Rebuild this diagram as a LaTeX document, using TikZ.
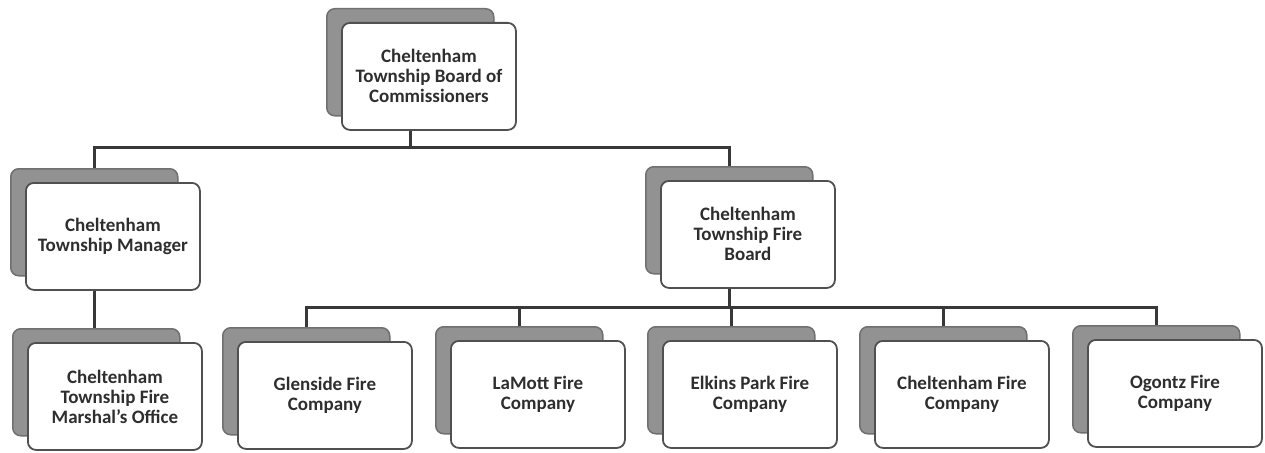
\documentclass[tikz,border=0pt]{standalone}
\usepackage{fontspec}
\setmainfont{Carlito}
\definecolor{frontc}{HTML}{505050}
\definecolor{shadc}{HTML}{707070}
\definecolor{shadf}{HTML}{929292}
\definecolor{textc}{HTML}{2E2E2E}
\definecolor{connc}{HTML}{383838}
\begin{document}
\begin{tikzpicture}[x=1pt,y=-1pt,
  frontbox/.style={draw=frontc, line width=1.8pt, fill=white, rounded corners=8pt,
    minimum width=174pt, minimum height=107pt, anchor=north west, align=center,
    font=\fontsize{19}{20}\selectfont\bfseries, text=textc, inner sep=0pt},
  shadowbox/.style={draw=shadc, line width=1.5pt, fill=shadf, rounded corners=8pt,
    minimum width=167pt, minimum height=107pt, anchor=north west, inner sep=0pt},
  conn/.style={draw=connc, line width=3pt}]
\useasboundingbox[fill=white] (0,0) rectangle (1265,452);
\newcommand\orgbox[4]{%
  \node[shadowbox] (#1s) at (#2-15,#3-14) {};
  \node[frontbox] (#1) at (#2,#3) {#4};}
\orgbox{top}{341}{22}{Cheltenham\\Township Board of\\Commissioners}
\orgbox{man}{25}{182}{Cheltenham\\Township Manager}
\orgbox{mar}{27}{342}{Cheltenham\\Township Fire\\Marshal's Office}
\orgbox{board}{660}{180}{Cheltenham\\Township Fire\\Board}
\orgbox{glen}{237}{341}{Glenside Fire\\Company}
\orgbox{lam}{450}{340}{LaMott Fire\\Company}
\orgbox{elk}{662}{340}{Elkins Park Fire\\Company}
\orgbox{chf}{874}{340}{Cheltenham Fire\\Company}
\orgbox{ogo}{1087}{339}{Ogontz Fire\\Company}
\coordinate (b1) at (0,147);
\coordinate (b2) at (0,307);
\draw[conn] (top.south -| tops.north) -- (tops.north |- b1);
\draw[conn] (mans.north) -- (mans.north |- b1) -| (boards.north);
\draw[conn] (man.south -| mans.north) -- (mans.north |- mars.north);
\draw[conn] (board.south -| boards.north) -- (boards.north |- b2);
\draw[conn] (glens.north) |- (b2 -| ogos.north) -- (ogos.north);
\draw[conn] (lams.north) -- (lams.north |- b2);
\draw[conn] (elks.north) -- (elks.north |- b2);
\draw[conn] (chfs.north) -- (chfs.north |- b2);
\end{tikzpicture}
\end{document}
